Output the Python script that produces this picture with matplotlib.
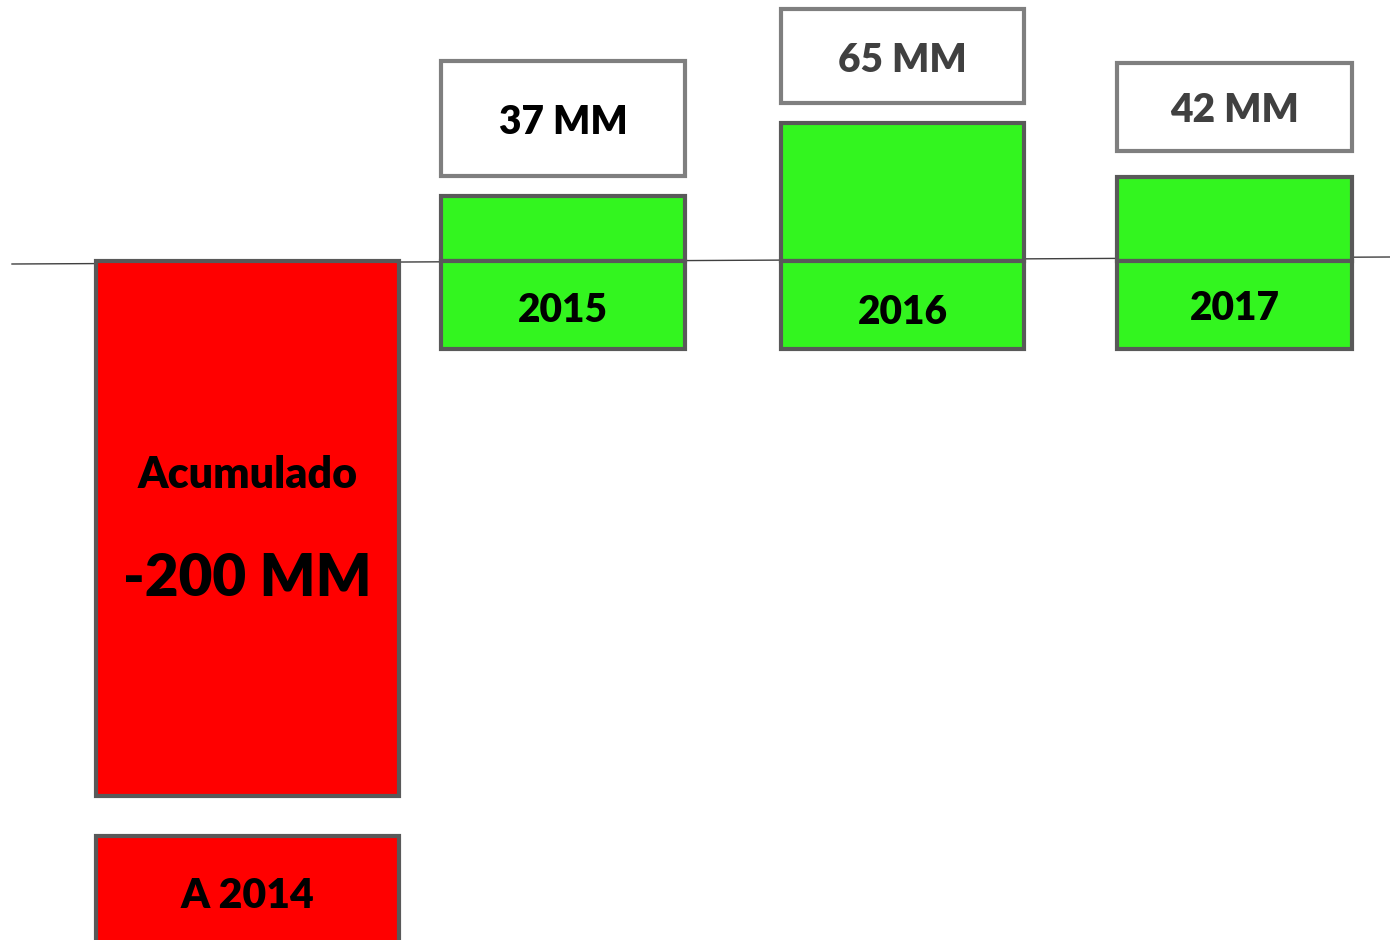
import matplotlib.pyplot as plt
import numpy as np

plt.rcParams["font.family"] = ["Lato", "DejaVu Sans"]

# datos
categorias = ["A 2014", "2015", "2016", "2017"]
valores_mm = [-200, 37, 65, 42]
# alturas visuales de las barras (unidades del dibujo, no proporcionales)
alturas = [-535, 65, 138, 84]

centros = [247.5, 563, 902.5, 1234.5]
anchos = [303, 244, 243, 235]
verde = "#33F51F"
rojo = "#FF0000"
borde = "#595959"
peso = "heavy"

fig = plt.figure(figsize=(13.9, 9.4), dpi=100)
ax = fig.add_axes([0, 0, 1, 1])
ax.set_xlim(0, 1390)
ax.set_ylim(-679, 261)
ax.axis("off")

# linea base ligeramente inclinada
ax.plot([12, 1390], [-3, 4], color="#404040", lw=1.0, zorder=1)

colores = [rojo if v < 0 else verde for v in valores_mm]

# barras principales
ax.bar(centros, alturas, width=anchos, color=colores, edgecolor=borde,
       linewidth=3, zorder=2)

# cajas de año bajo la linea (solo positivas)
desp_y = [-49, -51, -48]
for j, i in enumerate(range(1, 4)):
    ax.bar(centros[i], -88, width=anchos[i], color=verde, edgecolor=borde,
           linewidth=3, zorder=2)
    ax.text(centros[i], desp_y[j], categorias[i], ha="center", va="center",
            fontsize=28, fontweight=peso, color="black", zorder=3)

# caja "A 2014" debajo de la barra roja
ax.bar(centros[0], -200, bottom=-575, width=anchos[0], color=rojo,
       edgecolor=borde, linewidth=3, zorder=2)
ax.text(centros[0], -635, categorias[0], ha="center", va="center",
        fontsize=29.5, fontweight=peso, color="black", zorder=3)

# texto dentro de la barra roja
ax.text(centros[0], -214, "Acumulado", ha="center", va="center",
        fontsize=31, fontweight=peso, color="black", zorder=3)
ax.text(centros[0], -318, f"{valores_mm[0]} MM", ha="center", va="center",
        fontsize=42, fontweight=peso, color="black", zorder=3)

# cajas de valor encima de las barras verdes
altos_caja = [115, 94, 88]
huecos = [20, 20, 26]
colores_txt = ["black", "#404040", "#404040"]
for j, i in enumerate(range(1, 4)):
    base = alturas[i] + huecos[j]
    ax.bar(centros[i], altos_caja[j], bottom=base, width=anchos[i],
           color="white", edgecolor="#7F7F7F", linewidth=3, zorder=2)
    ax.text(centros[i], base + altos_caja[j] / 2 - 4, f"{valores_mm[i]} MM",
            ha="center", va="center", fontsize=28, fontweight=peso,
            color=colores_txt[j], zorder=3)

fig.savefig("out.png", dpi=100)
